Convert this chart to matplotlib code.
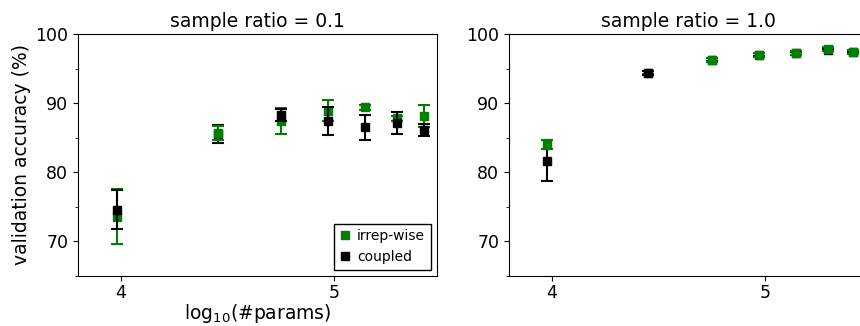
import matplotlib
matplotlib.use('Agg')
import matplotlib.pyplot as plt
from matplotlib.lines import Line2D
from matplotlib.ticker import MultipleLocator

# log10(#params) positions
x_left = [3.983, 4.453, 4.751, 4.972, 5.145, 5.292, 5.417]
x_right = [3.980, 4.451, 4.750, 4.969, 5.143, 5.291, 5.411]

# sample ratio = 0.1
irrep_01 = [73.6, 85.7, 87.4, 88.9, 89.4, 87.8, 88.1]
irrep_01_err = [4.0, 1.0, 1.9, 1.5, 0.4, 0.4, 1.6]
coupled_01 = [74.6, 85.5, 88.3, 87.4, 86.5, 87.1, 86.1]
coupled_01_err = [2.8, 1.3, 0.9, 2.0, 1.8, 1.6, 0.9]
coupled_on_top_01 = [True, False, True, True, True, True, True]

# sample ratio = 1.0
irrep_10 = [84.0, 94.4, 96.3, 97.0, 97.2, 97.8, 97.4]
irrep_10_err = [0.7, 0.2, 0.3, 0.3, 0.3, 0.3, 0.3]
coupled_10 = [81.7, 94.4, 96.3, 97.0, 97.2, 97.7, 97.4]
coupled_10_err = [2.9, 0.3, 0.2, 0.2, 0.2, 0.2, 0.2]
coupled_on_top_10 = [False, True, False, False, False, False, False]

titles = ['sample ratio = 0.1', 'sample ratio = 1.0']

plt.rcParams['font.family'] = 'DejaVu Sans'

fig = plt.figure(figsize=(8.6, 3.26), dpi=100)
ax1 = fig.add_axes([0.0907, 0.1534, 0.4174, 0.7423])
ax2 = fig.add_axes([0.5919, 0.1534, 0.4174, 0.7423])

style = dict(fmt='s', markersize=5.5, capsize=4.5, elinewidth=1.5, capthick=1.5)

panels = [
    (ax1, x_left, irrep_01, irrep_01_err, coupled_01, coupled_01_err, coupled_on_top_01),
    (ax2, x_right, irrep_10, irrep_10_err, coupled_10, coupled_10_err, coupled_on_top_10),
]

for i, (ax, xs, gi, gi_err, cp, cp_err, on_top) in enumerate(panels):
    for j in range(len(xs)):
        zg, zb = (2, 3) if on_top[j] else (3, 2)
        ax.errorbar(xs[j], gi[j], yerr=gi_err[j], color='green', zorder=zg, **style)
        ax.errorbar(xs[j], cp[j], yerr=cp_err[j], color='black', zorder=zb, **style)
    ax.set_xlim(3.80, 5.48)
    ax.set_ylim(65, 100)
    ax.set_xticks([4, 5])
    ax.yaxis.set_major_locator(MultipleLocator(10))
    ax.yaxis.set_minor_locator(MultipleLocator(5))
    ax.tick_params(labelsize=12.5)
    ax.tick_params(axis='x', pad=2.5)
    ax.set_title(titles[i], fontsize=13.5, pad=5)

ax1.set_ylabel('validation accuracy (%)', fontsize=13.5, labelpad=3)
ax1.set_xlabel(r'log$_{10}$(#params)', fontsize=13.5, labelpad=0)

handles = [
    Line2D([], [], marker='s', linestyle='none', color='green', markersize=5.5),
    Line2D([], [], marker='s', linestyle='none', color='black', markersize=5.5),
]
leg = ax1.legend(handles, ['irrep-wise', 'coupled'], loc='lower right',
                 fontsize=10, fancybox=False, framealpha=1, edgecolor='black',
                 handlelength=0.8, handletextpad=0.5, borderaxespad=0.45)
leg.set_zorder(5)

fig.savefig('out.png', dpi=100)
